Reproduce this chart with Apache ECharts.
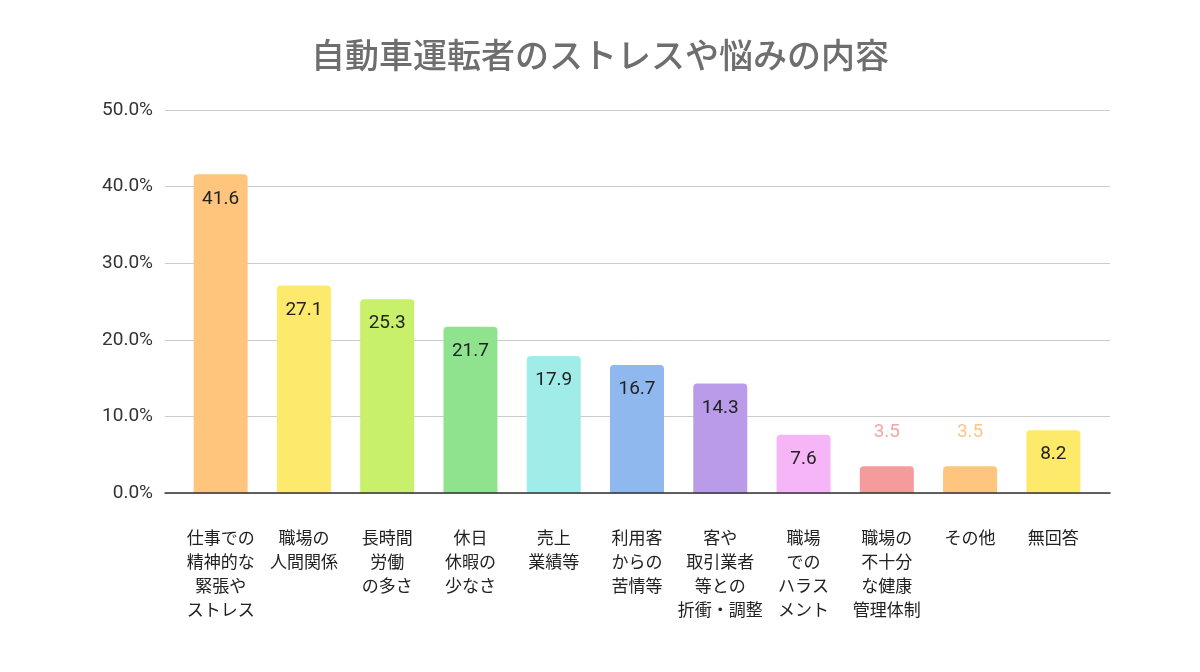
<!DOCTYPE html>
<html><head><meta charset="utf-8">
<script src="https://cdn.jsdelivr.net/npm/echarts@6/dist/echarts.min.js"></script>
<style>html,body{margin:0;padding:0;background:#fff}#c{width:1200px;height:672px}</style>
</head><body><div id="c"></div>
<script>
const titleText = '自動車運転者のストレスや悩みの内容';
const categories = ['仕事での\n精神的な\n緊張や\nストレス','職場の\n人間関係','長時間\n労働\nの多さ','休日\n休暇の\n少なさ','売上\n業績等','利用客\nからの\n苦情等','客や\n取引業者\n等との\n折衝・調整','職場\nでの\nハラス\nメント','職場の\n不十分\nな健康\n管理体制','その他','無回答'];
const values = [41.6, 27.1, 25.3, 21.7, 17.9, 16.7, 14.3, 7.6, 3.5, 3.5, 8.2];
const colors = ['#ffc57c','#fde96b','#c8f06a','#8fe38f','#a0ece8','#8fb9ee','#b99be9','#f5b5f6','#f59b9b','#fdc57d','#fde96a'];
const outsideLabelColors = {8:'#f6a5a5', 9:'#fcc68a'};
const yTicks = [0,10,20,30,40,50];

const cjk = '"Noto Sans CJK JP", "Noto Sans", sans-serif';
const chart = echarts.init(document.getElementById('c'));
chart.setOption({
  animation:false,
  title:{text:titleText,left:'center',top:33,textStyle:{fontFamily:cjk,fontSize:34,fontWeight:500,color:'#6e6e6e'}},
  grid:[
    {left:179,right:105,top:110,bottom:179},
    {left:165,right:90,top:110,bottom:179}
  ],
  xAxis:[
    {type:'category',gridIndex:0,data:categories,axisLine:{show:false},axisTick:{show:false},
     axisLabel:{interval:0,margin:33,lineHeight:24,fontSize:17,color:'#222',fontFamily:cjk,verticalAlign:'top'}},
    {type:'value',gridIndex:1,min:0,max:1,axisLine:{show:true,onZero:false,lineStyle:{color:'#333',width:1.5}},axisTick:{show:false},axisLabel:{show:false},splitLine:{show:false},z:5}
  ],
  yAxis:[
    {type:'value',gridIndex:0,min:0,max:50,interval:10,show:false,splitLine:{show:false}},
    {type:'value',gridIndex:1,min:yTicks[0],max:yTicks[yTicks.length-1],interval:10,axisLine:{show:false},axisTick:{show:false},
     splitLine:{lineStyle:{color:'#cccccc',width:1}},
     axisLabel:{margin:12,fontSize:19,color:'#333',fontFamily:'Roboto, sans-serif',formatter:v=>v.toFixed(1)+'%'}}
  ],
  series:[{
    type:'bar',xAxisIndex:0,yAxisIndex:0,barWidth:54,
    data:values.map((v,i)=>{
      const d={value:v,itemStyle:{color:colors[i],borderRadius:[4,4,0,0]}};
      if(outsideLabelColors[i]){d.label={position:'top',distance:24,color:outsideLabelColors[i]};}
      return d;
    }),
    label:{show:true,position:'insideTop',distance:15,fontSize:19,color:'#222',fontFamily:'Roboto, sans-serif'}
  }]
});
</script></body></html>
